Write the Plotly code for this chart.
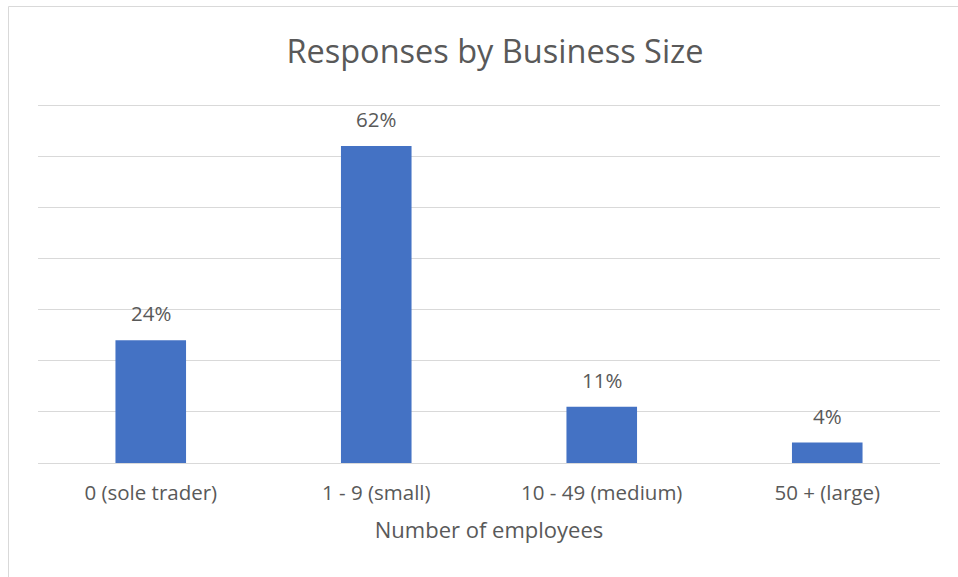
import plotly.graph_objects as go

categories = ["0 (sole trader)", "1 - 9 (small)", "10 - 49 (medium)", "50 + (large)"]
values = [24, 62, 11, 4]
y_ticks = [0, 10, 20, 30, 40, 50, 60, 70]
y_max = 70.4

FONT = "Open Sans"
TXT = "#595959"

fig = go.Figure(
    go.Bar(
        x=categories,
        y=values,
        marker=dict(color="#4472C4", line=dict(width=0)),
        hoverinfo="skip",
    )
)

for c, v in zip(categories, values):
    fig.add_annotation(
        x=c, y=v, text=f"{v}%", showarrow=False,
        yanchor="bottom", yshift=11,
        font=dict(family=FONT, size=20.5, color=TXT),
    )

W, H = 958, 577
L, R, T, B = 38, 18, 103, 114
pw, ph = W - L - R, H - T - B

def px_to_paper_x(px):
    return (px - L) / pw

def px_to_paper_y(py):
    return (H - B - py) / ph

# chart-area border (Excel style)
fig.add_shape(
    type="rect", xref="paper", yref="paper",
    x0=px_to_paper_x(8.5), x1=px_to_paper_x(1000),
    y0=px_to_paper_y(6.5), y1=px_to_paper_y(700),
    line=dict(color="#D9D9D9", width=1), fillcolor="rgba(0,0,0,0)",
    layer="below",
)

fig.update_layout(
    width=W, height=H,
    margin=dict(l=L, r=R, t=T, b=B, pad=0),
    paper_bgcolor="white", plot_bgcolor="white",
    bargap=0.687,
    showlegend=False,
    title=dict(
        text="Responses by Business Size",
        font=dict(family=FONT, size=32.5, color=TXT),
        xref="container", yref="container",
        x=495 / W, y=1 - 52 / H, xanchor="center", yanchor="middle",
    ),
    xaxis=dict(
        showline=True, linecolor="#D9D9D9", linewidth=1,
        showgrid=False, ticks="", ticklabelstandoff=11,
        tickfont=dict(family=FONT, size=20.5, color=TXT),
        title=dict(text="Number of employees", standoff=18,
                   font=dict(family=FONT, size=22, color=TXT)),
    ),
    yaxis=dict(
        range=[0, y_max], tickvals=y_ticks, showticklabels=False,
        showgrid=True, gridcolor="#D9D9D9", gridwidth=1,
        zeroline=False, showline=False, ticks="",
    ),
)

fig.write_html("out.html")
